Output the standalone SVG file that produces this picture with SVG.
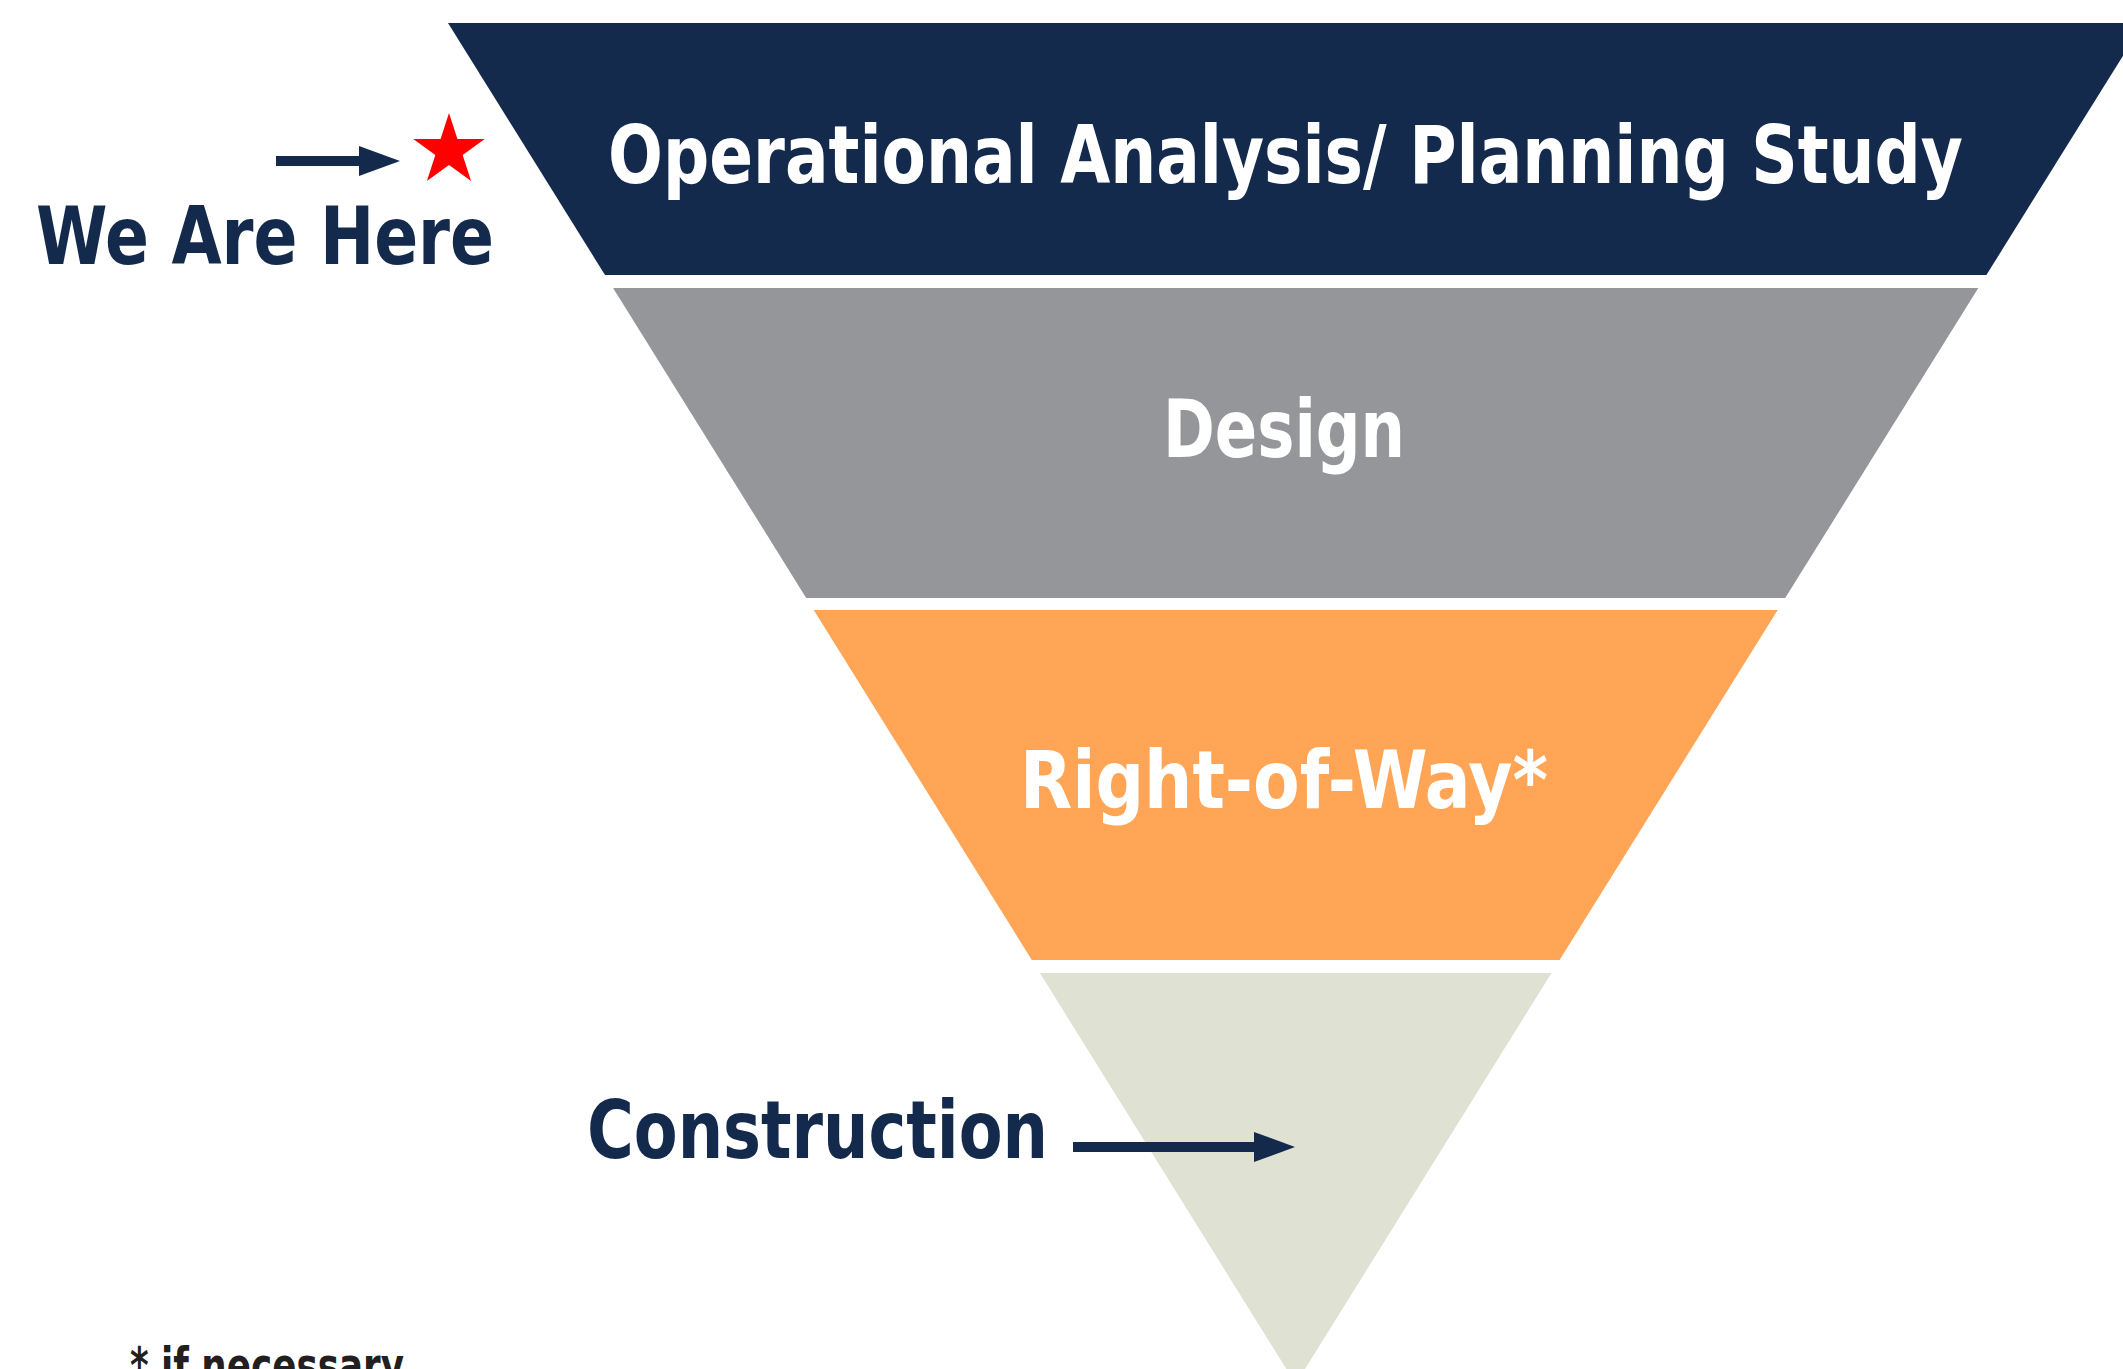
<svg xmlns="http://www.w3.org/2000/svg" width="2123" height="1369" viewBox="0 0 2123 1369">
  <style>
    .label { font-family: "DejaVu Sans Condensed", "Liberation Sans Narrow", "Liberation Sans", sans-serif; font-weight: bold; font-size: 80px; }
    .on-band { fill: #ffffff; }
    .dark { fill: #142a4c; }
    .note { font-family: "DejaVu Sans Condensed", "Liberation Sans", sans-serif; font-weight: bold; font-size: 50px; fill: #231f20; }
    .arrow { stroke: #142a4c; stroke-width: 10; fill: none; marker-end: url(#head); }
  </style>
  <defs>
    <marker id="head" viewBox="0 0 41 30" markerWidth="41" markerHeight="30" markerUnits="userSpaceOnUse" refX="0" refY="15" orient="auto">
      <path d="M0,0 L41,15 L0,30 Z" fill="#142a4c"/>
    </marker>
  </defs>
  <rect width="2123" height="1369" fill="#ffffff"/>

  <!-- funnel bands, top to bottom -->
  <g id="band-planning">
    <polygon points="448,23 2143.4,23 1986.4,275 605,275" fill="#142a4c"/>
    <text class="label on-band" x="608" y="183" textLength="1355" lengthAdjust="spacingAndGlyphs">Operational Analysis/ Planning Study</text>
  </g>
  <g id="band-design">
    <polygon points="613.1,288 1978.3,288 1785.2,598 806.2,598" fill="#959699"/>
    <text class="label on-band" x="1163" y="457" textLength="242" lengthAdjust="spacingAndGlyphs">Design</text>
  </g>
  <g id="band-right-of-way">
    <polygon points="813.7,610 1777.7,610 1559.6,960 1031.8,960" fill="#ffa555"/>
    <text class="label on-band" x="1020" y="808" textLength="528" lengthAdjust="spacingAndGlyphs">Right-of-Way*</text>
  </g>
  <g id="band-construction">
    <polygon points="1039.9,973 1551.5,973 1295.7,1384" fill="#dfe1d3"/>
  </g>

  <!-- current-stage marker -->
  <g id="we-are-here">
    <text class="label dark" x="36" y="264" textLength="458" lengthAdjust="spacingAndGlyphs">We Are Here</text>
    <polygon points="449,113 457.44,138.98 484.76,138.98 462.66,155.04 471.1,181.02 449,164.96 426.9,181.02 435.34,155.04 413.24,138.98 440.56,138.98" fill="#ff0000"/>
  </g>

  <g id="construction-label">
    <text class="label dark" x="587" y="1158" textLength="461" lengthAdjust="spacingAndGlyphs">Construction</text>
  </g>

  <g id="footnote">
    <text class="note" x="130" y="1383" textLength="274" lengthAdjust="spacingAndGlyphs">* if necessary</text>
  </g>

  <!-- pointer arrows -->
  <g id="connectors">
    <line class="arrow" x1="276" y1="161" x2="359" y2="161"/>
    <line class="arrow" x1="1073" y1="1147" x2="1254" y2="1147"/>
  </g>
</svg>
